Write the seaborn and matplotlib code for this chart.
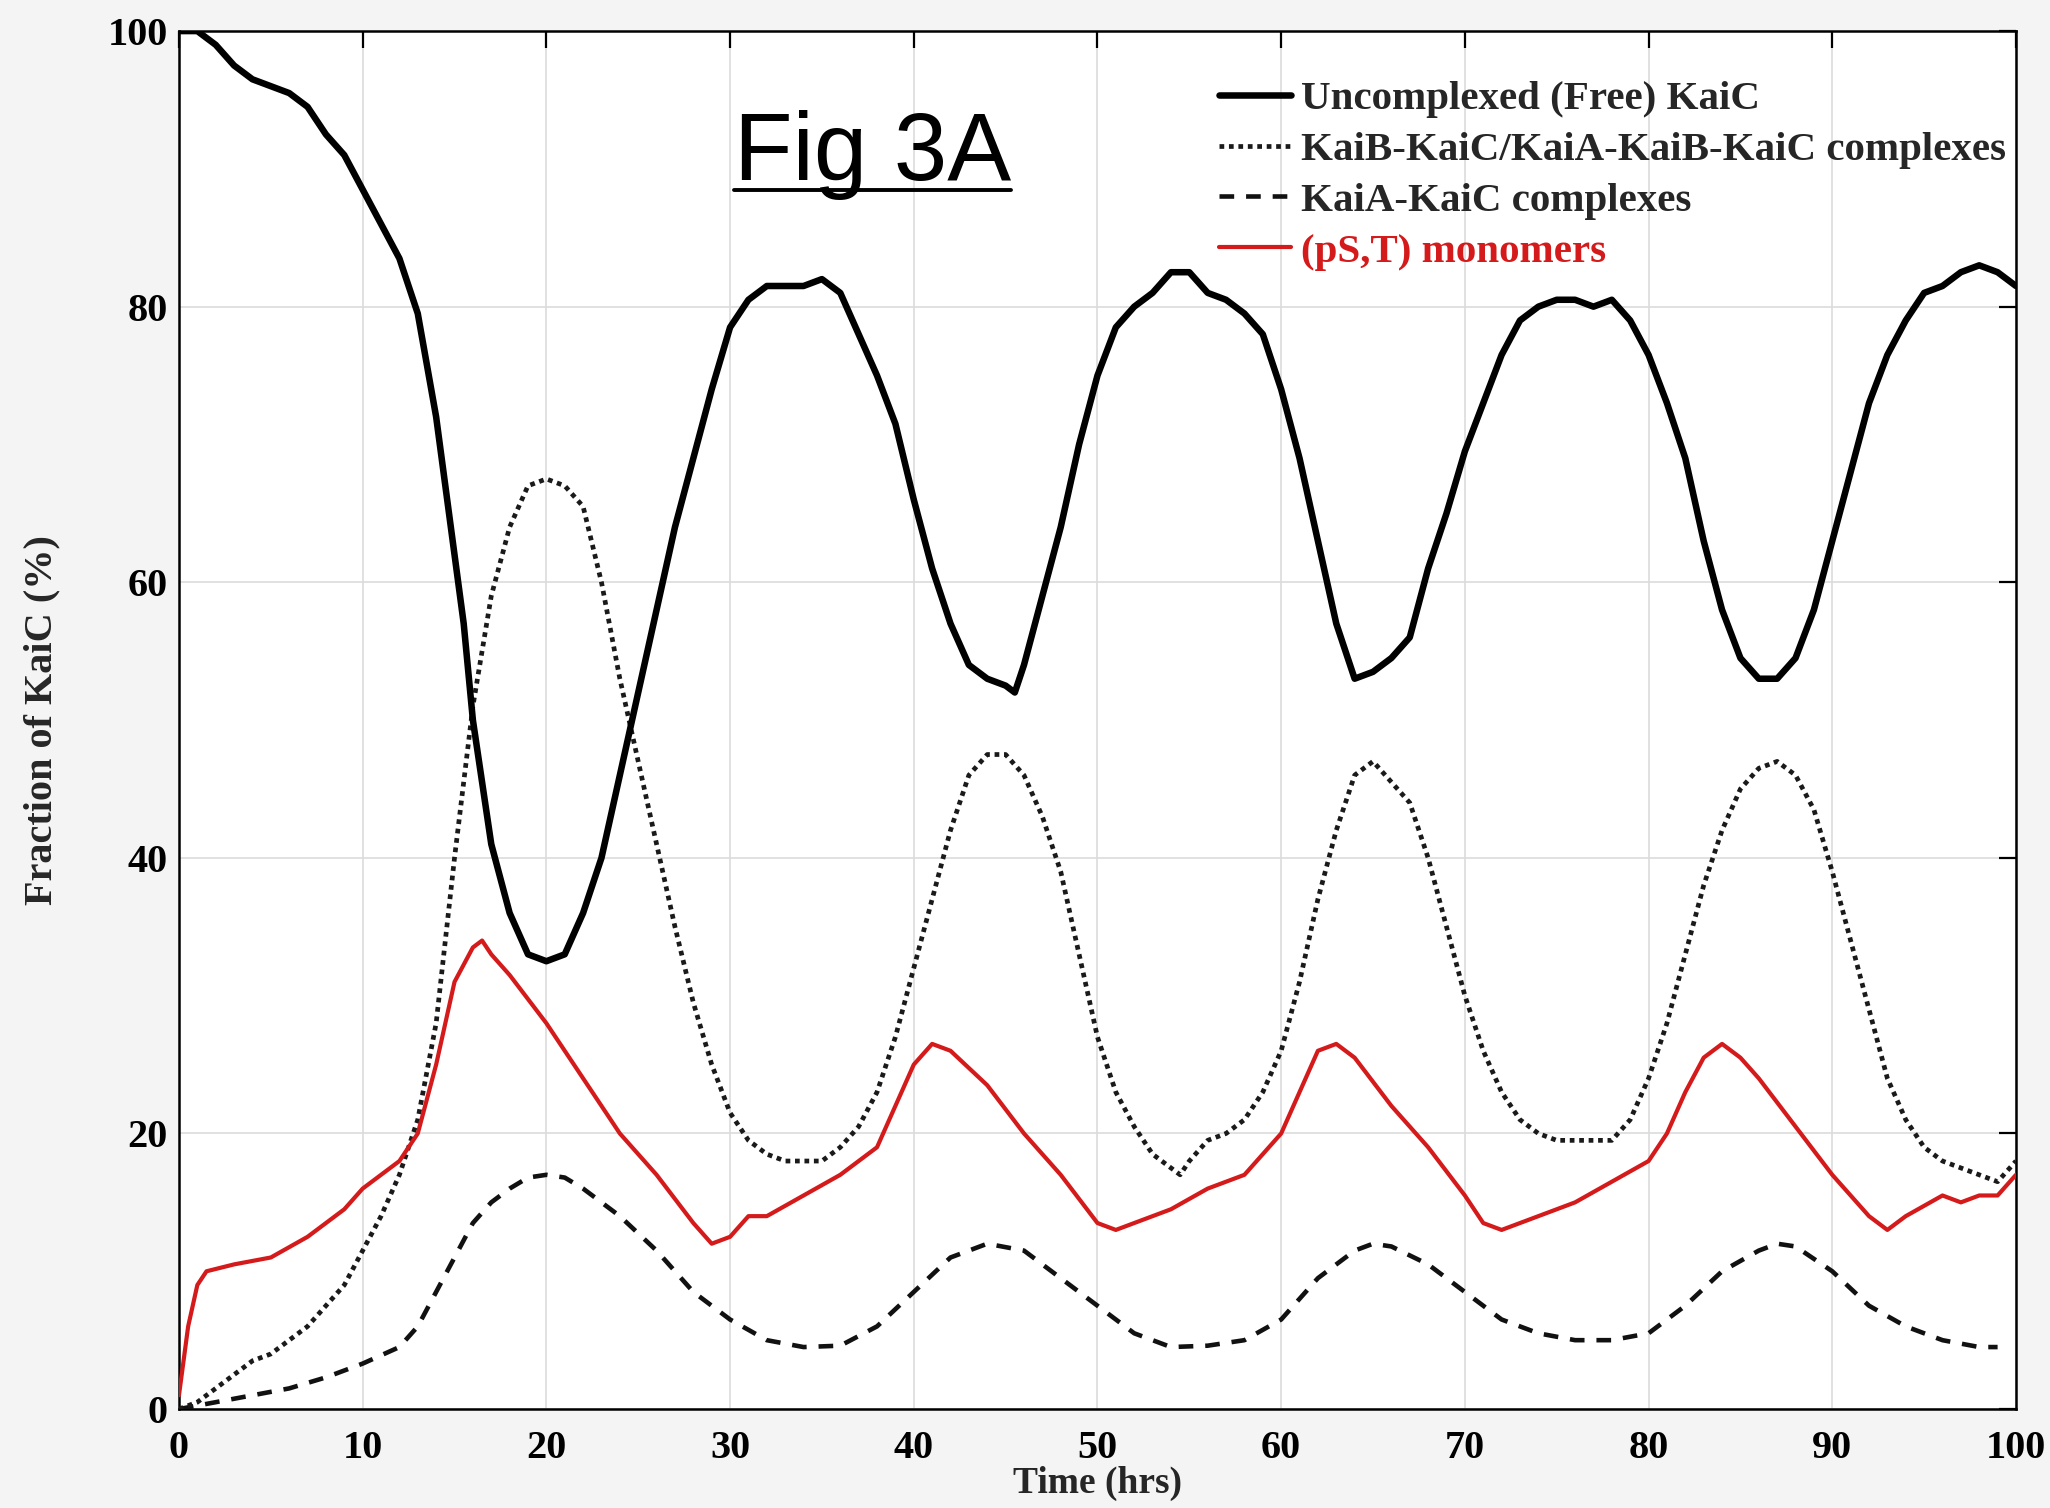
import numpy as np
import pandas as pd
import matplotlib
matplotlib.use("Agg")
import matplotlib.pyplot as plt
import seaborn as sns

# ---------------- data ----------------
free_t = [0, 1, 2, 3, 4, 5, 6, 7, 8, 9, 10, 11, 12, 13, 14, 15, 15.5, 16, 17, 18, 19, 20, 21, 22, 23, 24, 25, 26,
          27, 28, 29, 30, 31, 32, 33, 34, 35, 36, 37, 38, 39, 40, 41, 42, 43, 44, 45, 45.5, 46, 47, 48, 49, 50,
          51, 52, 53, 54, 55, 56, 57, 58, 59, 60, 61, 62, 63, 64, 65, 66, 67, 68, 69, 70, 71, 72, 73, 74, 75,
          76, 77, 78, 79, 80, 81, 82, 83, 84, 85, 86, 87, 88, 89, 90, 91, 92, 93, 94, 95, 96, 97, 98, 99, 100]
free_v = [100, 100, 99, 97.5, 96.5, 96, 95.5, 94.5, 92.5, 91, 88.5, 86, 83.5, 79.5, 72, 62, 57, 50, 41, 36, 33,
          32.5, 33, 36, 40, 46, 52, 58, 64, 69, 74, 78.5, 80.5, 81.5, 81.5, 81.5, 82, 81, 78, 75, 71.5, 66, 61,
          57, 54, 53, 52.5, 52, 54, 59, 64, 70, 75, 78.5, 80, 81, 82.5, 82.5, 81, 80.5, 79.5, 78, 74, 69, 63,
          57, 53, 53.5, 54.5, 56, 61, 65, 69.5, 73, 76.5, 79, 80, 80.5, 80.5, 80, 80.5, 79, 76.5, 73, 69, 63,
          58, 54.5, 53, 53, 54.5, 58, 63, 68, 73, 76.5, 79, 81, 81.5, 82.5, 83, 82.5, 81.5]

kaib_t = [0, 1, 2, 3, 4, 5, 6, 7, 8, 9, 10, 11, 12, 13, 14, 15, 16, 17, 18, 19, 20, 21, 22, 23, 24, 25, 26, 27,
          28, 29, 30, 31, 32, 33, 34, 35, 36, 37, 38, 39, 40, 41, 42, 43, 44, 45, 46, 47, 48, 49, 50, 51, 52,
          53, 54, 54.5, 55, 56, 57, 58, 59, 60, 61, 62, 63, 64, 65, 66, 67, 68, 69, 70, 71, 72, 73, 74, 75, 76,
          77, 78, 79, 80, 81, 82, 83, 84, 85, 86, 87, 88, 89, 90, 91, 92, 93, 94, 95, 96, 97, 98, 99, 100]
kaib_v = [0, 0.5, 1.5, 2.5, 3.5, 4, 5, 6, 7.5, 9, 11.5, 14, 17, 21, 28, 40, 51, 59, 64, 67, 67.5, 67, 65.5, 60,
          53, 47, 41, 35, 29.5, 25, 21.5, 19.5, 18.5, 18, 18, 18, 19, 20.5, 23, 27, 32, 37, 42, 46, 47.5, 47.5,
          46, 43, 39, 33, 27, 23, 20.5, 18.5, 17.5, 17, 18, 19.5, 20, 21, 23, 26, 31, 37, 42, 46, 47, 45.5, 44,
          40, 35, 30, 26, 23, 21, 20, 19.5, 19.5, 19.5, 19.5, 21, 24, 28, 33, 38, 42, 45, 46.5, 47, 46, 43.5, 39,
          34, 29, 24, 21, 19, 18, 17.5, 17, 16.5, 18]

kaia_t = [0, 2, 4, 6, 8, 10, 12, 13, 14, 15, 16, 17, 18, 19, 20, 21, 22, 24, 26, 28, 30, 32, 34, 36, 38, 40, 42,
          44, 46, 48, 50, 52, 54, 56, 58, 60, 62, 64, 65, 66, 68, 70, 72, 74, 76, 78, 80, 82, 84, 86, 87, 88,
          90, 92, 94, 96, 98, 99]
kaia_v = [0, 0.5, 1, 1.5, 2.3, 3.3, 4.5, 6, 8.5, 11, 13.5, 15, 16, 16.8, 17, 16.8, 16, 14, 11.5, 8.5, 6.5, 5,
          4.5, 4.6, 6, 8.5, 11, 12, 11.5, 9.5, 7.5, 5.5, 4.5, 4.6, 5, 6.5, 9.5, 11.5, 12, 11.8, 10.5, 8.5, 6.5,
          5.5, 5, 5, 5.5, 7.5, 10, 11.5, 12, 11.8, 10, 7.5, 6, 5, 4.5, 4.5]

pst_t = [0, 0.5, 1, 1.5, 3, 5, 7, 8, 9, 10, 11, 12, 13, 14, 15, 16, 16.5, 17, 18, 20, 22, 24, 26, 28, 29, 30, 31,
         32, 34, 36, 38, 39, 40, 41, 42, 44, 46, 48, 50, 51, 52, 54, 56, 58, 60, 61, 62, 63, 64, 66, 68, 70,
         71, 72, 74, 76, 78, 80, 81, 82, 83, 84, 85, 86, 88, 90, 92, 93, 94, 96, 97, 98, 99, 100]
pst_v = [1, 6, 9, 10, 10.5, 11, 12.5, 13.5, 14.5, 16, 17, 18, 20, 25, 31, 33.5, 34, 33, 31.5, 28, 24, 20, 17,
         13.5, 12, 12.5, 14, 14, 15.5, 17, 19, 22, 25, 26.5, 26, 23.5, 20, 17, 13.5, 13, 13.5, 14.5, 16, 17,
         20, 23, 26, 26.5, 25.5, 22, 19, 15.5, 13.5, 13, 14, 15, 16.5, 18, 20, 23, 25.5, 26.5, 25.5, 24, 20.5,
         17, 14, 13, 14, 15.5, 15, 15.5, 15.5, 17]

x_ticks = [0, 10, 20, 30, 40, 50, 60, 70, 80, 90, 100]
y_ticks = [0, 20, 40, 60, 80, 100]

labels = ["Uncomplexed (Free) KaiC",
          "KaiB-KaiC/KaiA-KaiB-KaiC complexes",
          "KaiA-KaiC complexes",
          "(pS,T) monomers"]

# ---------------- figure ----------------
sns.set_theme(style="white")
plt.rcParams["font.family"] = ["Liberation Serif", "DejaVu Serif"]

fig = plt.figure(figsize=(20.5, 15.08), dpi=100, facecolor="#f4f4f4")
ax = fig.add_axes([0.0873, 0.0656, 0.8961, 0.9138])
ax.set_facecolor("white")

df_free = pd.DataFrame({"t": free_t, "v": free_v})
df_kaib = pd.DataFrame({"t": kaib_t, "v": kaib_v})
df_kaia = pd.DataFrame({"t": kaia_t, "v": kaia_v})
df_pst = pd.DataFrame({"t": pst_t, "v": pst_v})

red = "#d41a1a"
sns.lineplot(data=df_kaia, x="t", y="v", ax=ax, color="#111111", lw=3.3,
             linestyle=(0, (3.2, 2.6)), label=labels[2], zorder=3)
sns.lineplot(data=df_kaib, x="t", y="v", ax=ax, color="#1a1a1a", lw=3.4,
             linestyle=(0, (1.0, 1.0)), label=labels[1], zorder=3)
sns.lineplot(data=df_pst, x="t", y="v", ax=ax, color=red, lw=3.0,
             label=labels[3], zorder=4)
sns.lineplot(data=df_free, x="t", y="v", ax=ax, color="black", lw=4.7,
             label=labels[0], zorder=5)

ax.set_xlim(0, 100)
ax.set_ylim(0, 100)
ax.set_xticks(x_ticks)
ax.set_yticks(y_ticks)
ax.set_xticklabels([str(v) for v in x_ticks])
ax.set_yticklabels([str(v) for v in y_ticks])

ax.grid(True, color="#dcdcdc", lw=1.2)
ax.set_axisbelow(True)
for s in ax.spines.values():
    s.set_visible(True)
    s.set_color("black")
    s.set_linewidth(1.8)

ax.tick_params(axis="both", which="both", direction="in", length=12, width=1.6,
               top=True, right=True, labelsize=29, colors="black")
ax.tick_params(axis="x", pad=15)
ax.tick_params(axis="y", pad=8)
for lab in ax.get_xticklabels() + ax.get_yticklabels():
    lab.set_fontweight("bold")

ax.set_xlabel("Time (hrs)", fontsize=27, fontweight="bold", labelpad=-1)
ax.set_ylabel("Fraction of KaiC (%)", fontsize=29, fontweight="bold", labelpad=34)

# legend in reference order
handles, labs = ax.get_legend_handles_labels()
order = [labs.index(l) for l in labels]
leg = ax.legend([handles[i] for i in order], [labs[i] for i in order],
                loc="upper right", bbox_to_anchor=(1.008, 0.982), frameon=False,
                prop={"family": "Liberation Serif", "weight": "bold", "size": 29.5},
                handlelength=1.75, handletextpad=0.25, labelspacing=0.32, borderaxespad=0.2)
for txt in leg.get_texts():
    if txt.get_text() == labels[3]:
        txt.set_color(red)

# title "Fig 3A", underlined
title = ax.text(0.3776, 0.892, "Fig 3A", transform=ax.transAxes, ha="center", va="baseline",
                fontsize=69, family="Liberation Sans", color="black")
fig.canvas.draw()
bb = title.get_window_extent().transformed(ax.transAxes.inverted())
ax.plot([bb.x0, bb.x1], [0.8846, 0.8846], transform=ax.transAxes,
        color="black", lw=2.8, clip_on=False)

fig.savefig("out.png", dpi=100, facecolor=fig.get_facecolor())
